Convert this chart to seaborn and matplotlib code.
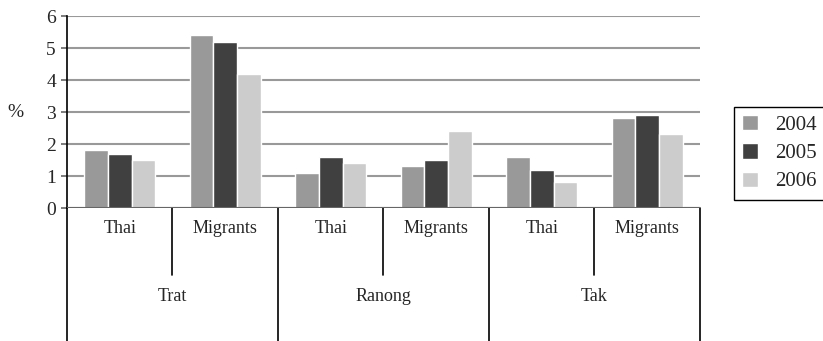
import matplotlib
matplotlib.use("Agg")
import matplotlib.pyplot as plt
import matplotlib.transforms as mtransforms
import seaborn as sns
import pandas as pd

regions = ["Trat", "Ranong", "Tak"]
groups = ["Thai", "Migrants"]
years = ["2004", "2005", "2006"]
v2004 = [1.8, 5.4, 1.1, 1.3, 1.6, 2.8]
v2005 = [1.7, 5.2, 1.6, 1.5, 1.2, 2.9]
v2006 = [1.5, 4.2, 1.4, 2.4, 0.8, 2.3]
yticks = [0, 1, 2, 3, 4, 5, 6]

keys = [f"{r}|{g}" for r in regions for g in groups]
rows = []
for y, vals in zip(years, [v2004, v2005, v2006]):
    for k, v in zip(keys, vals):
        rows.append({"cat": k, "year": y, "value": v})
df = pd.DataFrame(rows)

sns.set_style("white")
plt.rcParams["font.family"] = ["Liberation Serif", "DejaVu Serif"]
plt.rcParams["font.size"] = 12

fig = plt.figure(figsize=(8.23, 3.41), dpi=100)
ax = fig.add_axes([0.0814, 0.39, 0.7691, 0.563])
palette = {"2004": "#999999", "2005": "#404040", "2006": "#cccccc"}
sns.barplot(data=df, x="cat", y="value", hue="year", order=keys, hue_order=years,
            palette=palette, width=0.675, gap=0, saturation=1, ax=ax,
            errorbar=None, legend=True)

ax.set_xlim(-0.5, len(keys) - 0.5)
ax.set_ylim(0, 6)
ax.set_yticks(yticks)
ax.set_yticklabels([str(t) for t in yticks], fontsize=14)
ax.yaxis.grid(True, color="#999999", linewidth=1.5)
ax.set_axisbelow(True)
ax.tick_params(axis="y", length=4, width=1.2, color="#666666", pad=4, left=True)
ax.tick_params(axis="x", length=0, bottom=False, labelbottom=False)
ax.set_xlabel("")
ax.set_ylabel("%", rotation=0, fontsize=14, labelpad=22, va="center")
for s in ["top", "right", "bottom"]:
    ax.spines[s].set_visible(False)
ax.spines["left"].set_color("black")
ax.spines["left"].set_linewidth(1.2)
ax.axhline(0, color="#666666", linewidth=1.5, zorder=3)

# hierarchical category axis
trans = mtransforms.blended_transform_factory(ax.transData, ax.transAxes)
n = len(keys)
for i in range(n + 1):
    x = i - 0.5
    y1 = -1.0 if i % len(groups) == 0 else -0.35
    ax.plot([x, x], [0, y1], color="black", lw=1.2, transform=trans, clip_on=False)
for i, k in enumerate(keys):
    ax.text(i, -0.105, k.split("|")[1], transform=trans, ha="center", va="center", fontsize=13)
for j, r in enumerate(regions):
    xc = j * len(groups) + (len(groups) - 1) / 2
    ax.text(xc, -0.46, r, transform=trans, ha="center", va="center", fontsize=13)

ax.legend_.remove()
handles, labels = ax.get_legend_handles_labels()
leg = fig.legend(handles, labels, loc="upper left", bbox_to_anchor=(0.892, 0.687),
                 frameon=True, fancybox=False, framealpha=1, edgecolor="black",
                 fontsize=15, handlelength=0.75, handleheight=0.75, handletextpad=0.8,
                 labelspacing=0.4, borderpad=0.4, borderaxespad=0)
leg.get_frame().set_linewidth(1.0)

fig.savefig("out.png", dpi=100)
